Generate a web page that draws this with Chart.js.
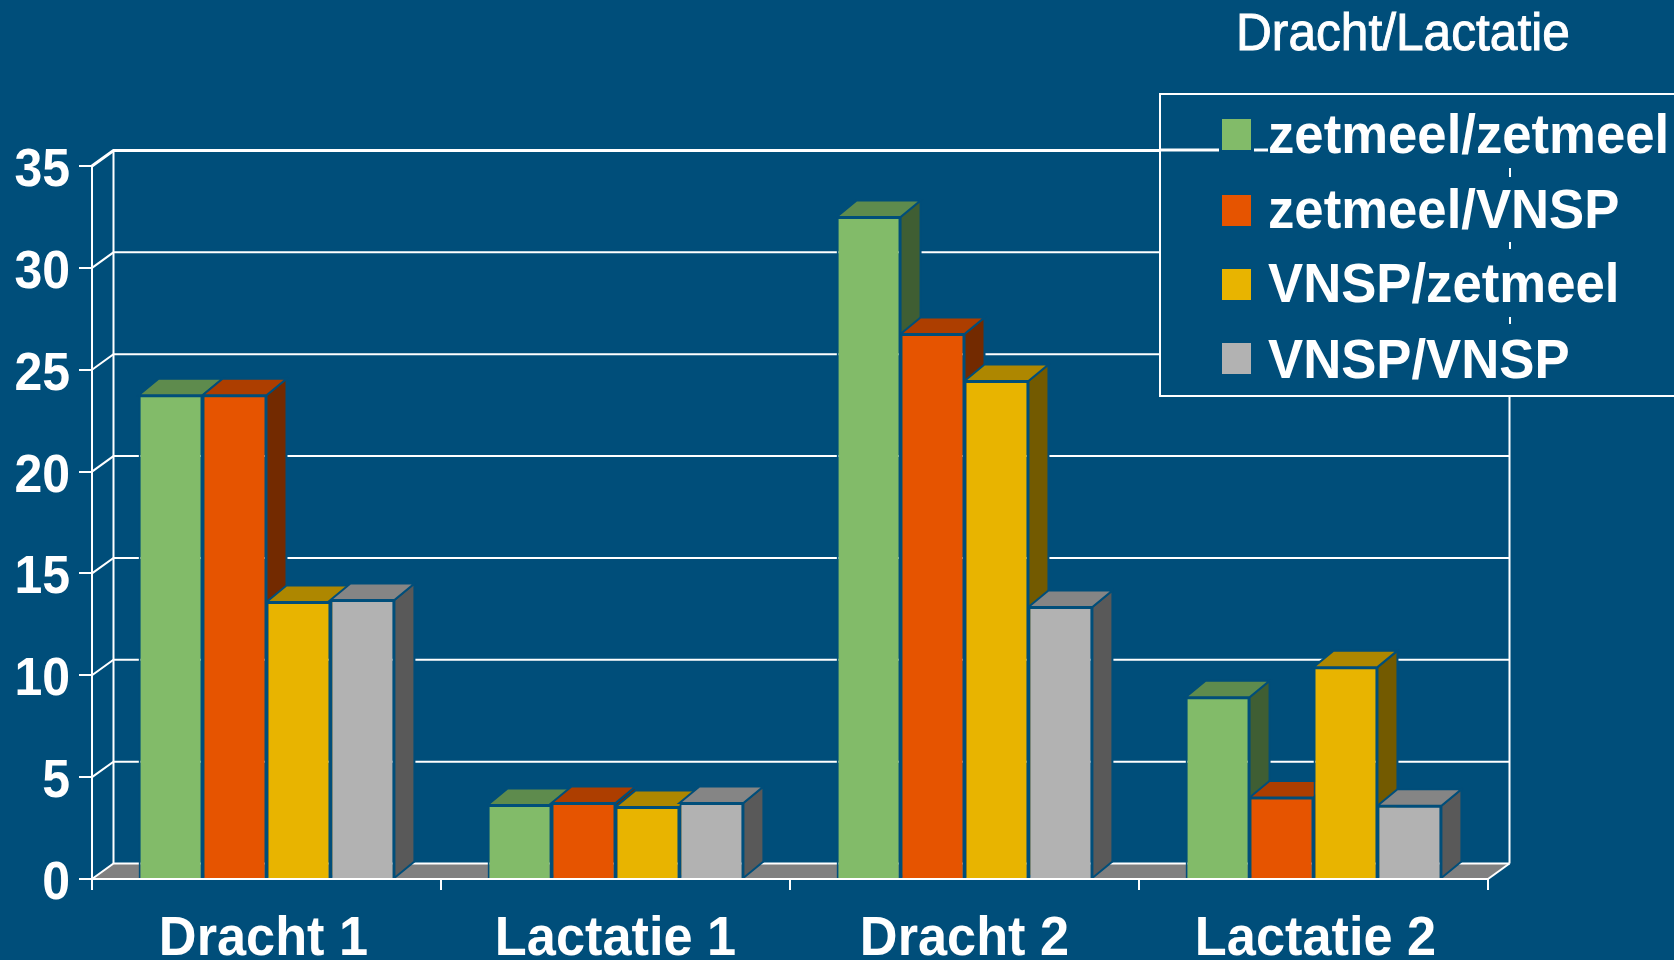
<!DOCTYPE html>
<html><head><meta charset="utf-8">
<style>html,body{margin:0;padding:0;background:#004E7A;overflow:hidden}canvas{display:block}</style>
<script src="https://cdn.jsdelivr.net/npm/chart.js@4"></script></head>
<body><canvas id="c" width="1674" height="960"></canvas>
<script>
const categories = ['Dracht 1','Lactatie 1','Dracht 2','Lactatie 2'];
const seriesNames = ['zetmeel/zetmeel','zetmeel/VNSP','VNSP/zetmeel','VNSP/VNSP'];
const zetmeelZetmeel = [23.75,3.63,32.5,8.92];
const zetmeelVnsp = [23.75,3.73,26.75,4.0];
const vnspZetmeel = [13.6,3.53,24.45,10.4];
const vnspVnsp = [13.7,3.73,13.35,3.6];
const yTicks = [0,5,10,15,20,25,30,35];
const titleText = 'Dracht/Lactatie';

const BG='#004E7A', WHITE='#FFFFFF';
const front=['#82BB69','#E65400','#E8B400','#B2B2B2'];
const topC=['#5E8B4D','#AD3E00','#AE8700','#858585'];
const sideC=['#3F5E33','#732A00','#735A00','#595959'];
const DX=21.5, DY=15.5, BDX=20, BDY=16.5;

function tall(c,text,x,base,s){c.save();c.translate(x,base);c.scale(1,s);c.fillText(text,0,0);c.restore();}

const plugin3d={id:'plugin3d',
 beforeDraw(ch){const c=ch.ctx;c.save();c.fillStyle=BG;c.fillRect(0,0,ch.width,ch.height);c.restore();},
 beforeDatasetsDraw(ch){
  const c=ch.ctx,a=ch.chartArea,y=ch.scales.y;
  c.save();
  const y0=y.getPixelForValue(0);
  c.fillStyle='#808080';c.beginPath();c.moveTo(a.left,y0);c.lineTo(a.left+DX,y0-DY);c.lineTo(a.right+DX,y0-DY);c.lineTo(a.right,y0);c.closePath();c.fill();
  c.strokeStyle=WHITE;
  yTicks.forEach(v=>{const p=y.getPixelForValue(v);
    c.lineWidth=v===35?3:2;
    c.beginPath();c.moveTo(a.left,p);c.lineTo(a.left+DX,p-DY);c.lineTo(a.right+DX,p-DY);c.stroke();});
  c.lineWidth=2;
  const t=y.getPixelForValue(35);
  c.beginPath();c.moveTo(a.left+DX,t-DY);c.lineTo(a.left+DX,y0-DY);c.stroke();
  c.beginPath();c.moveTo(a.right+DX,t-DY);c.lineTo(a.right+DX,y0-DY);c.stroke();
  c.beginPath();c.moveTo(a.right+DX,y0-DY);c.lineTo(a.right,y0);c.stroke();
  c.strokeStyle=BG;c.lineWidth=2;c.lineJoin='miter';
  const n=ch.data.labels.length;
  for(let i=0;i<n;i++){
   ch.data.datasets.forEach((d,k)=>{
    const e=ch.getDatasetMeta(k).data[i];
    const l=e.x-e.width/2,r=e.x+e.width/2,tp=e.y,b=e.base;
    c.fillStyle=sideC[k];c.beginPath();c.moveTo(r,tp);c.lineTo(r+BDX,tp-BDY);c.lineTo(r+BDX,b-BDY);c.lineTo(r,b);c.closePath();c.fill();c.stroke();
    c.fillStyle=topC[k];c.beginPath();c.moveTo(l,tp);c.lineTo(l+BDX,tp-BDY);c.lineTo(r+BDX,tp-BDY);c.lineTo(r,tp);c.closePath();c.fill();c.stroke();
   });
  }
  c.restore();
 },
 afterDraw(ch){
  const c=ch.ctx,xs=ch.scales.x,ys=ch.scales.y;c.save();
  c.fillStyle=WHITE;c.textBaseline='alphabetic';
  c.font='bold 50px "Liberation Sans"';c.textAlign='right';
  ys.ticks.forEach((t,i)=>tall(c,t.label,70,ys.getPixelForTick(i)+20,1.07));
  c.font='bold 52.3px "Liberation Sans"';c.textAlign='center';
  xs.ticks.forEach((t,i)=>tall(c,categories[t.value],xs.getPixelForTick(i)+(i===0?-3:i===3?2:0),955,1.05));
  c.textAlign='left';
  c.fillStyle=BG;c.fillRect(1160,94,520,302);
  c.strokeStyle=WHITE;c.lineWidth=2;c.strokeRect(1160,94,560,302);
  c.lineWidth=3;
  [[1160,1219],[1254,1268]].forEach(s=>{c.beginPath();c.moveTo(s[0],150);c.lineTo(s[1],150);c.stroke();});
  c.lineWidth=2;
  [[168,177],[242,249],[317,324]].forEach(s=>{c.beginPath();c.moveTo(1510,s[0]);c.lineTo(1510,s[1]);c.stroke();});
  const sw=[119,195,269,343], base=[153,228,302,378];
  c.font='bold 52.7px "Liberation Sans"';
  seriesNames.forEach((s,i)=>{
    c.fillStyle=front[i];c.fillRect(1222,sw[i],29,31);
    c.fillStyle=WHITE;tall(c,s,1268,base[i],1.04);
  });
  c.font='49px "Liberation Sans"';c.fillStyle=WHITE;c.strokeStyle=WHITE;c.lineWidth=0.9;
  c.translate(1236,50);c.scale(1.013,1.05);c.fillText(titleText,0,0);c.strokeText(titleText,0,0);
  c.restore();
 }};

new Chart(document.getElementById('c'),{
 type:'bar',
 data:{labels:categories,datasets:[zetmeelZetmeel,zetmeelVnsp,vnspZetmeel,vnspVnsp].map((d,i)=>({
   label:seriesNames[i],data:d,backgroundColor:front[i],borderColor:BG,borderWidth:2,
   categoryPercentage:0.733,barPercentage:1}))},
 options:{responsive:false,animation:false,
  layout:{padding:{top:166,right:186,left:0,bottom:0}},
  plugins:{legend:{display:false},tooltip:{enabled:false},title:{display:false}},
  scales:{
   x:{grid:{drawOnChartArea:false,color:WHITE,tickLength:11,lineWidth:2,offset:true},
      border:{color:WHITE,width:2,z:1},
      ticks:{display:false,autoSkip:false,maxRotation:0},
      afterFit(s){s.height=81;}},
   y:{min:0,max:35,afterBuildTicks(s){s.ticks=yTicks.map(v=>({value:v}));},
      grid:{drawOnChartArea:false,color:WHITE,tickLength:13,lineWidth:2},
      border:{color:WHITE,width:2},
      ticks:{display:false},
      afterFit(s){s.width=92;}}
  }},
 plugins:[plugin3d]
});
</script></body></html>
